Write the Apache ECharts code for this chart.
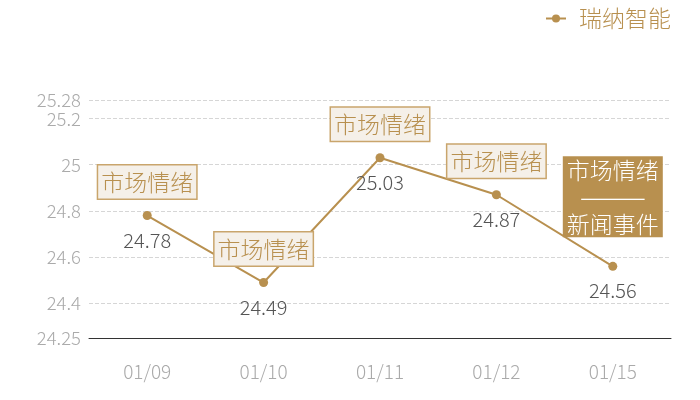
<!DOCTYPE html>
<html><head><meta charset="utf-8">
<script src="https://cdn.jsdelivr.net/npm/echarts@6/dist/echarts.min.js"></script>
<style>html,body{margin:0;padding:0;background:#fff}#c{width:700px;height:400px}</style>
</head><body><div id="c"></div>
<script>
const categories = ['01/09', '01/10', '01/11', '01/12', '01/15'];
const values = [24.78, 24.49, 25.03, 24.87, 24.56];
const seriesName = '瑞纳智能';
const notes = ['市场情绪', '市场情绪', '市场情绪', '市场情绪', '市场情绪\n———\n新闻事件'];
const highlighted = [false, false, false, false, true];
const yMin = 24.25, yMax = 25.28;

const GOLD = '#b8904f';
const FONT = '"Noto Sans CJK SC","Noto Sans",sans-serif';
const W = 300;

const markData = categories.map((c, i) => {
  const hi = highlighted[i];
  return {
    coord: [c, values[i]],
    value: notes[i],
    label: hi ? {
      show: true, position: 'top', distance: 29,
      formatter: () => {
        const parts = notes[i].split('\n');
        return '{a|' + parts[0] + '}\n{d|' + parts[1] + '}\n{a|' + parts[2] + '}';
      },
      backgroundColor: GOLD, padding: [0, 4],
      rich: {
        a: { color: '#fff', fontSize: 23, lineHeight: 27, fontFamily: FONT, fontWeight: W, align: 'center' },
        d: { color: '#fff', fontSize: 27, lineHeight: 27, fontFamily: FONT, fontWeight: W, align: 'center' }
      }
    } : {
      show: true, position: 'top', distance: 17,
      formatter: notes[i],
      color: GOLD, backgroundColor: '#f5f0e9',
      borderColor: '#c9a56c', borderWidth: 1.5,
      fontSize: 23, lineHeight: 29, padding: [2, 3], fontFamily: FONT, fontWeight: W
    }
  };
});

const chart = echarts.init(document.getElementById('c'));
chart.setOption({
  animation: false,
  textStyle: { fontFamily: FONT, fontWeight: W },
  legend: {
    data: [seriesName], right: 24, top: 2,
    itemWidth: 20, itemHeight: 10,
    textStyle: { color: GOLD, fontSize: 23, fontFamily: FONT, fontWeight: W, padding: [0, 0, 0, 8] }
  },
  grid: { left: 89, right: 29, top: 100, bottom: 62 },
  xAxis: {
    type: 'category', data: categories,
    axisLine: { lineStyle: { color: '#333', width: 1 } },
    axisTick: { show: false },
    axisLabel: { color: '#aaa', fontSize: 19, margin: 24, fontFamily: FONT, fontWeight: W }
  },
  yAxis: {
    type: 'value', min: yMin, max: yMax,
    axisLine: { show: false }, axisTick: { show: false },
    axisLabel: { color: '#aaa', fontSize: 18.5, margin: 8, fontFamily: FONT, fontWeight: W,
                 showMinLabel: true, showMaxLabel: true, hideOverlap: false },
    splitLine: { lineStyle: { color: '#d6d6d6', type: 'dashed' } }
  },
  series: [{
    name: seriesName, type: 'line', data: values,
    symbol: 'circle', symbolSize: 9,
    itemStyle: { color: GOLD },
    lineStyle: { color: GOLD, width: 2 },
    label: { show: true, position: 'bottom', distance: 10, color: '#555', fontSize: 20, fontFamily: FONT, fontWeight: W },
    markPoint: {
      symbol: 'circle', symbolSize: 0,
      data: markData
    }
  }]
});
</script></body></html>
